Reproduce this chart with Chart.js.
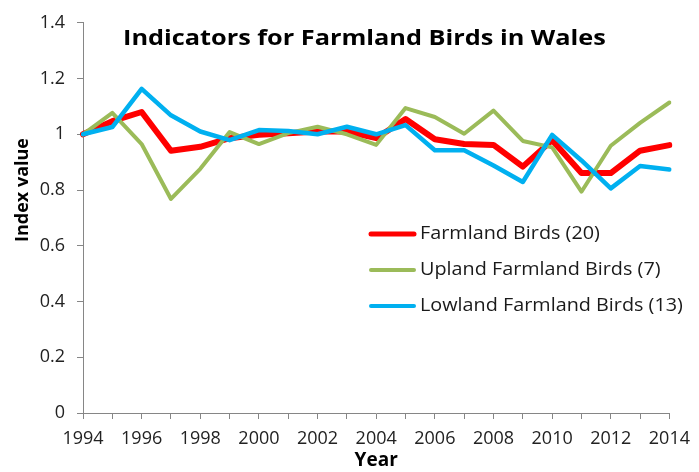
<!DOCTYPE html>
<html>
<head>
<meta charset="utf-8">
<script src="https://cdn.jsdelivr.net/npm/chart.js@4/dist/chart.umd.min.js"></script>
<style>
    html, body { margin: 0; padding: 0; background: #fff; }
    #wrap { width: 699px; height: 472px; position: relative; }
</style>
</head>
<body>
<div id="wrap"><canvas id="birdsChart"></canvas></div>
<script>
// Data
const years = ['1994', '1995', '1996', '1997', '1998', '1999', '2000', '2001', '2002', '2003', '2004',
    '2005', '2006', '2007', '2008', '2009', '2010', '2011', '2012', '2013', '2014'];
const farmlandBirds = [1.0, 1.047, 1.080, 0.941, 0.955, 0.986, 0.998, 1.004, 1.010, 1.010, 0.986,
    1.055, 0.982, 0.965, 0.962, 0.884, 0.979, 0.861, 0.861, 0.941, 0.961];
const uplandBirds = [1.0, 1.077, 0.965, 0.768, 0.876, 1.008, 0.965, 1.004, 1.027, 1.000, 0.962,
    1.094, 1.062, 1.002, 1.085, 0.976, 0.953, 0.794, 0.959, 1.041, 1.114];
const lowlandBirds = [1.0, 1.026, 1.163, 1.068, 1.010, 0.979, 1.015, 1.012, 1.000, 1.027, 1.000,
    1.033, 0.943, 0.943, 0.888, 0.829, 0.998, 0.906, 0.806, 0.886, 0.874];
const yTicks = [0, 0.2, 0.4, 0.6, 0.8, 1, 1.2, 1.4];

const chartTitle = 'Indicators for Farmland Birds in Wales';
const seriesNames = ['Farmland Birds (20)', 'Upland Farmland Birds (7)', 'Lowland Farmland Birds (13)'];

const FONT = '"Open Sans", Lato, sans-serif';
const AXIS_GREY = '#868686';

// draw text stretched sideways a little, the original is wider than Open Sans
function wideText(ctx, text, x, y, sx) {
    ctx.save();
    ctx.translate(x, y);
    ctx.scale(sx, 1);
    ctx.fillText(text, 0, 0);
    ctx.restore();
}

// Title, y-axis label and legend sit inside the plot, so draw them by hand
const overlayPlugin = {
    id: 'overlay',
    afterDraw(chart) {
        const ctx = chart.ctx;
        const area = chart.chartArea;
        ctx.save();

        ctx.fillStyle = '#000';
        ctx.font = 'bold 22px ' + FONT;
        ctx.textAlign = 'left';
        ctx.textBaseline = 'alphabetic';
        wideText(ctx, chartTitle, area.left + 40, 45, 1.15);

        ctx.save();
        ctx.translate(23, 190);
        ctx.rotate(-Math.PI / 2);
        ctx.textAlign = 'center';
        ctx.textBaseline = 'middle';
        ctx.font = 'bold 18px ' + FONT;
        ctx.fillText('Index value', 0, 0);
        ctx.restore();

        ctx.font = '18px ' + FONT;
        ctx.textBaseline = 'middle';
        ctx.fillStyle = '#1a1a1a';
        chart.data.datasets.forEach((ds, i) => {
            const y = 234 + i * 36;
            ctx.strokeStyle = ds.borderColor;
            ctx.lineWidth = i === 0 ? 5 : 4;
            ctx.lineCap = 'round';
            ctx.beginPath();
            ctx.moveTo(371, y);
            ctx.lineTo(414, y);
            ctx.stroke();
            wideText(ctx, ds.label, 420, y, 1.1);
        });

        ctx.restore();
    }
};

new Chart(document.getElementById('birdsChart'), {
    type: 'line',
    data: {
        labels: years,
        datasets: [
            {
                label: seriesNames[0],
                data: farmlandBirds,
                borderColor: '#ff0000',
                borderWidth: 6,
                order: 3
            },
            {
                label: seriesNames[1],
                data: uplandBirds,
                borderColor: '#9bbb59',
                borderWidth: 4,
                order: 2
            },
            {
                label: seriesNames[2],
                data: lowlandBirds,
                borderColor: '#00b0f0',
                borderWidth: 4.5,
                order: 1
            }
        ]
    },
    options: {
        responsive: true,
        maintainAspectRatio: false,
        animation: false,
        layout: {
            padding: { top: 16, right: 22, left: 0, bottom: 0 }
        },
        elements: {
            point: { radius: 0, hoverRadius: 0 },
            line: { tension: 0, borderJoinStyle: 'round', borderCapStyle: 'round', fill: false }
        },
        plugins: {
            legend: { display: false },
            tooltip: { enabled: false },
            title: { display: false }
        },
        scales: {
            x: {
                type: 'category',
                offset: false,
                grid: {
                    display: true,
                    drawOnChartArea: false,
                    drawTicks: true,
                    tickLength: 6,
                    color: AXIS_GREY
                },
                border: { display: true, color: AXIS_GREY, width: 1 },
                ticks: {
                    autoSkip: false,
                    maxRotation: 0,
                    padding: 9,
                    color: '#222',
                    font: { family: FONT, size: 18 },
                    callback: function (value, index) {
                        return index % 2 === 0 ? years[index] : '';
                    }
                },
                title: {
                    display: true,
                    text: 'Year',
                    color: '#000',
                    padding: { top: 0, bottom: 0 },
                    font: { family: FONT, size: 19, weight: 'bold' }
                },
                afterFit: function (scale) {
                    scale.height = 59;
                }
            },
            y: {
                min: yTicks[0],
                max: yTicks[yTicks.length - 1],
                afterBuildTicks: function (scale) {
                    scale.ticks = yTicks.map(v => ({ value: v }));
                },
                grid: {
                    display: true,
                    drawOnChartArea: false,
                    drawTicks: true,
                    tickLength: 6,
                    color: AXIS_GREY
                },
                border: { display: true, color: AXIS_GREY, width: 1 },
                ticks: {
                    padding: 12,
                    color: '#222',
                    font: { family: FONT, size: 18 },
                    callback: function (value) {
                        return String(Number(value.toFixed(1)));
                    }
                },
                afterFit: function (scale) {
                    scale.width = 83;
                }
            }
        }
    },
    plugins: [overlayPlugin]
});
</script>
</body>
</html>
